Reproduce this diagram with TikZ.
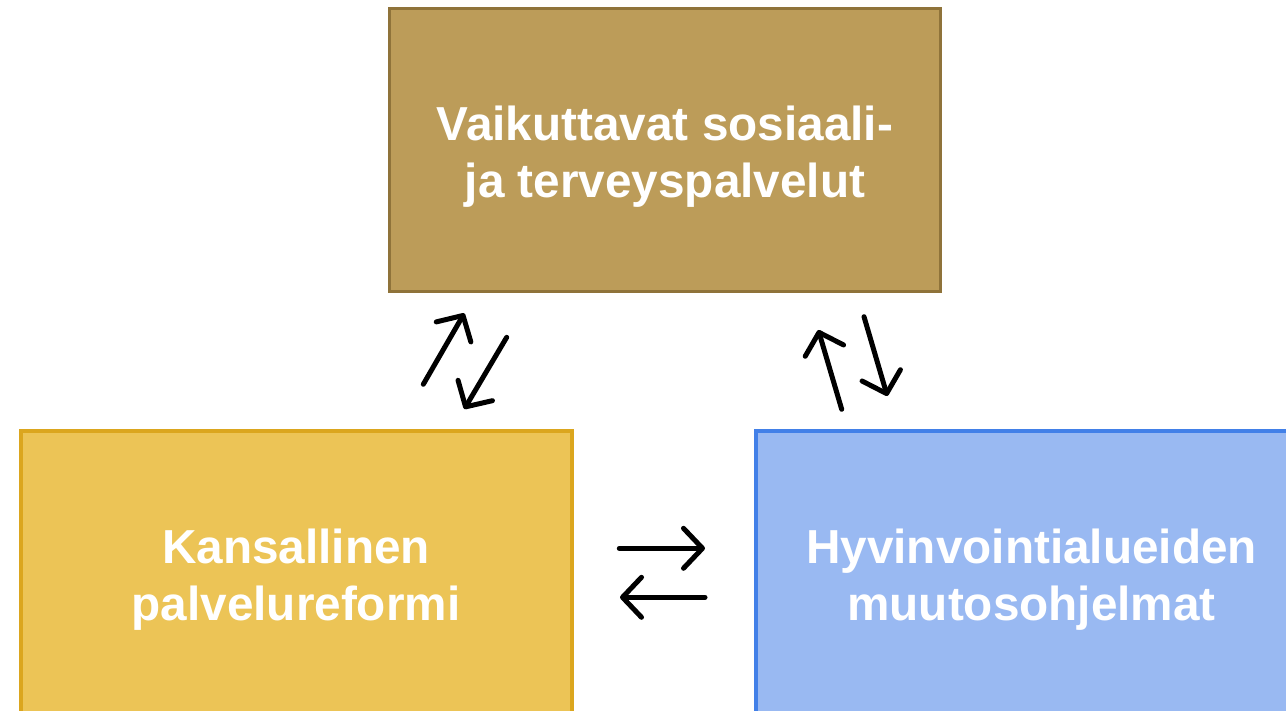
\documentclass[tikz,border=0pt]{standalone}
\usepackage{fontspec}
\setmainfont{Liberation Sans}
\usetikzlibrary{arrows.meta}
\definecolor{topfill}{RGB}{188,156,89}
\definecolor{topdraw}{RGB}{143,115,58}
\definecolor{leftfill}{RGB}{236,196,86}
\definecolor{leftdraw}{RGB}{219,166,30}
\definecolor{rightfill}{RGB}{153,185,242}
\definecolor{rightdraw}{RGB}{66,128,232}
\tikzset{
  box/.style={rectangle, inner sep=0pt},
  boxtext/.style={inner sep=0pt, align=center, text=white,
    font=\fontsize{47.7}{57}\selectfont\bfseries},
  flow/.style={line width=5pt, line cap=round, line join=round,
    -{Straight Barb[length=19pt,width=40pt,line cap=round,line join=round]}}
}
\begin{document}
\begin{tikzpicture}[x=1pt,y=-1pt]
\clip (0,0) rectangle (1286,711);
\fill[white] (0,0) rectangle (1286,711);
\node[box, fill=topfill, draw=topdraw, line width=3pt,
  minimum width=551pt, minimum height=283pt] (top) at (665,150) {};
\node[box, fill=leftfill, draw=leftdraw, line width=4pt,
  minimum width=551pt, minimum height=288pt] (left) at (296,575) {};
\node[box, fill=rightfill, draw=rightdraw, line width=4pt,
  minimum width=551pt, minimum height=288pt] (right) at (1031.5,575) {};
\node[boxtext] (toptext) at ([yshift=-7pt]top.center) {Vaikuttavat sosiaali-\\ja terveyspalvelut};
\node[boxtext] (lefttext) at ([yshift=-5pt]left.center) {Kansallinen\\palvelureformi};
\node[boxtext] (righttext) at ([yshift=-5pt]right.center) {Hyvinvointialueiden\\muutosohjelmat};
% arrow end points
\coordinate (a1s) at (423.3,384.3);
\coordinate (a1e) at (464.3,313.3);
\coordinate (a2s) at (506.7,337.3);
\coordinate (a2e) at (464.3,409);
\coordinate (b1s) at (841.7,409.3);
\coordinate (b1e) at (818.3,330);
\coordinate (b2s) at (864,316.7);
\coordinate (b2e) at (887.3,396);
\coordinate (c1s) at (619.3,548.3);
\coordinate (c1e) at (705,548.3);
\coordinate (c2s) at (705,597.3);
\coordinate (c2e) at (620,597.3);
\draw[flow] (a1s) -- (a1e);
\draw[flow] (a2s) -- (a2e);
\draw[flow] (b1s) -- (b1e);
\draw[flow] (b2s) -- (b2e);
\draw[flow] (c1s) -- (c1e);
\draw[flow] (c2s) -- (c2e);
\end{tikzpicture}
\end{document}
